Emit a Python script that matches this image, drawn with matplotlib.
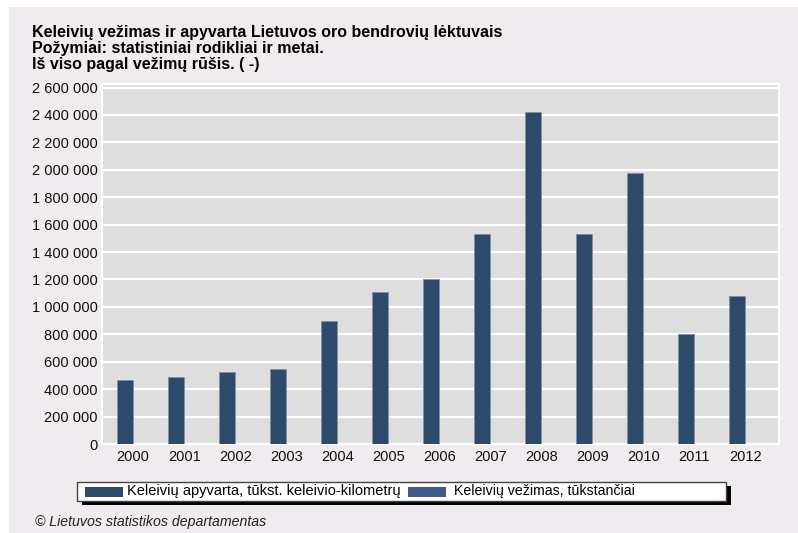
import matplotlib.pyplot as plt
import numpy as np
from matplotlib.patches import Rectangle

# Duomenys
metai = ['2000', '2001', '2002', '2003', '2004', '2005', '2006',
         '2007', '2008', '2009', '2010', '2011', '2012']
apyvarta = [468000, 488000, 524000, 546000, 900000, 1107000, 1202000,
            1530000, 2420000, 1530000, 1975000, 805000, 1076000]
vezimas = [300, 310, 330, 350, 560, 720, 770, 1020, 1400, 1000, 1330, 520, 690]
yticks = [0, 200000, 400000, 600000, 800000, 1000000, 1200000, 1400000,
          1600000, 1800000, 2000000, 2200000, 2400000, 2600000]

pavadinimas = ['Keleivių vežimas ir apyvarta Lietuvos oro bendrovių lėktuvais',
               'Požymiai: statistiniai rodikliai ir metai.',
               'Iš viso pagal vežimų rūšis. ( -)']
serijos = ['Keleivių apyvarta, tūkst. keleivio-kilometrų', 'Keleivių vežimas, tūkstančiai']

c1 = '#2e4a6b'
c2 = '#3e5a8a'

plt.rcParams['font.family'] = ['Liberation Sans', 'DejaVu Sans']

W, H = 798, 533
fig = plt.figure(figsize=(W / 100, H / 100), dpi=100, facecolor='white')

# pilkas fonas
fig.patches.append(Rectangle((9 / W, 0), 1 - 9 / W, 1 - 7 / H, transform=fig.transFigure,
                             facecolor='#efebef', edgecolor='none', zorder=-5))

ax = fig.add_axes([102 / W, 1 - 444 / H, (779 - 102) / W, (444 - 84) / H])
ax.set_zorder(5)
ax.set_facecolor('#dedede')

x = np.arange(len(metai))
w = 0.32
ax.bar(x - w / 2, apyvarta, w, color=c1, edgecolor='#8090a8', linewidth=0.6, zorder=3)
ax.bar(x + w / 2, vezimas, w, color=c2, edgecolor='none', linewidth=0, zorder=3)

ax.set_xlim(-0.61, 12.66)
ax.set_ylim(0, 2626000)
ax.set_yticks(yticks)
ax.set_yticklabels(['{:,}'.format(v).replace(',', ' ') for v in yticks])
ax.set_xticks(x)
ax.set_xticklabels(metai)
ax.tick_params(length=0, labelsize=10.5, pad=3, colors='#111111')
ax.tick_params(axis='x', pad=4)
ax.grid(axis='y', color='white', linewidth=1.6, zorder=1)
for s in ax.spines.values():
    s.set_color('white')
    s.set_linewidth(1.5)

# pavadinimas
for i, eil in enumerate(pavadinimas):
    fig.text(32 / W, 1 - (32 + i * 16.5) / H, eil, fontsize=11.5, fontweight='bold',
             va='center', ha='left', color='black')

# legenda
lx0, lx1, ly0, ly1 = 77, 726, 482, 501
fig.patches.append(Rectangle(((lx0 + 5) / W, 1 - (ly1 + 4) / H), (lx1 - lx0) / W,
                             (ly1 - ly0) / H, transform=fig.transFigure,
                             facecolor='black', edgecolor='none', zorder=1))
fig.patches.append(Rectangle((lx0 / W, 1 - ly1 / H), (lx1 - lx0) / W, (ly1 - ly0) / H,
                             transform=fig.transFigure, facecolor='white',
                             edgecolor='#444444', linewidth=1, zorder=2))
ym = 1 - (ly0 + ly1) / 2 / H
fig.patches.append(Rectangle((85 / W, ym - 5 / H), 38 / W, 10 / H, transform=fig.transFigure,
                             facecolor=c1, edgecolor='none', zorder=3))
fig.text(127 / W, ym, serijos[0], fontsize=10.5, va='center', ha='left', zorder=4)
fig.patches.append(Rectangle((408 / W, ym - 5 / H), 38 / W, 10 / H, transform=fig.transFigure,
                             facecolor=c2, edgecolor='none', zorder=3))
fig.text(454 / W, ym, serijos[1], fontsize=10.2, va='center', ha='left', zorder=4)

fig.text(35 / W, 1 - 522 / H, '© Lietuvos statistikos departamentas', fontsize=10.2,
         style='italic', va='center', ha='left', color='#222222')

fig.savefig('out.png', dpi=100, facecolor=fig.get_facecolor())
